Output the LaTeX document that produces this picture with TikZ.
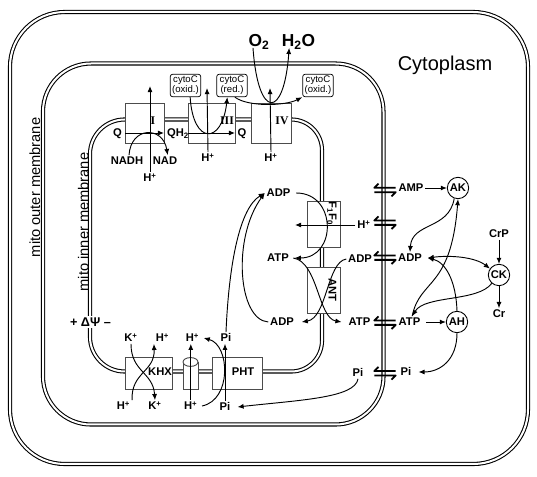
\documentclass[tikz,border=0pt]{standalone}
\usepackage{fontspec}
\setmainfont{Liberation Sans}
\newfontfamily\romanfont{Liberation Serif}
\usetikzlibrary{arrows.meta}
\tikzset{
  membrane/.style={draw=black, line width=0.8pt, double=white, double distance=1.5pt},
  cbox/.style={draw=black!70, fill=white, line width=0.7pt, inner sep=0pt, outer sep=0pt},
  lab/.style={font=\bfseries\fontsize{8.4}{9}\selectfont, inner sep=1.2pt, text height=6pt, text depth=0pt},
  biglab/.style={font=\bfseries\fontsize{13}{14}\selectfont, inner sep=1pt, text height=9.4pt, text depth=0pt},
  cyt/.style={draw, fill=white, rounded corners=2pt, line width=0.55pt, align=center, font=\fontsize{7.2}{7.6}\selectfont, inner sep=0.3pt, minimum width=23pt, minimum height=17pt},
  enz/.style={circle, draw, fill=white, line width=0.65pt, minimum size=16pt, inner sep=0pt, font=\bfseries\fontsize{8.4}{9}\selectfont},
  cx/.style={font=\romanfont\bfseries\fontsize{8.8}{9}\selectfont, inner sep=0pt},
  arr/.style={line width=0.7pt, -{Latex[length=4.6pt,width=3.8pt]}},
  darr/.style={line width=0.7pt, {Latex[length=4.6pt,width=3.8pt]}-{Latex[length=4.6pt,width=3.8pt]}},
  pics/exch/.style={code={
    \draw[line width=1.35pt, line join=round] (-6.5,-6.3) -- (-10.7,-2.2) -- (10.7,-2.2);
    \draw[line width=1.35pt, line join=round] (-10.7,2.2) -- (10.7,2.2) -- (6.5,6.3);
  }}
}
\begin{document}
\begin{tikzpicture}[x=0.75pt,y=-0.75pt]
\useasboundingbox (0,0) rectangle (537,477);
% membranes
\draw[membrane, rounded corners=41pt] (10,12) rectangle (528,464);
\draw[membrane, rounded corners=36pt] (43,63.5) rectangle (383.5,424.5);
\draw[membrane, rounded corners=26pt] (240,371.5) -| (90,250) |- (240,119.5);
\draw[membrane, rounded corners=23pt] (240,119.5) -| (322,250) |- (240,371.5);

% text of compartments
\node[font=\fontsize{15}{16}\selectfont, inner sep=0pt] (cyto) at (445,65) {Cytoplasm};
\node[rotate=90, font=\fontsize{11}{12}\selectfont, inner sep=0pt] (mom) at (35,187.5) {mito outer membrane};
\node[rotate=90, font=\fontsize{11}{12}\selectfont, inner sep=0pt] (mim) at (83.5,222) {mito inner membrane};

% complexes
\node[cbox, minimum width=29.25pt, minimum height=30pt] (cI) at (144.5,123) {};
\node[cbox, minimum width=35.25pt, minimum height=30pt] (cIII) at (211.5,123) {};
\node[cbox, minimum width=30pt, minimum height=30pt] (cIV) at (271,123) {};
\node[cbox, minimum width=24.75pt, minimum height=34.5pt] (bF) at (323.5,224) {};
\node[cbox, minimum width=24.75pt, minimum height=34.5pt] (bANT) at (323.5,290) {};
\node[cbox, minimum width=35.25pt, minimum height=24pt] (bKHX) at (148.5,373) {};
\node[cbox, minimum width=37.5pt, minimum height=24pt] (bPHT) at (237,373) {};
% channel cylinder
\fill[white] (183,362) rectangle (198,389);
\draw[draw=black!70, line width=0.7pt] (183,362) -- (183,389) -- (198,389) -- (198,362);
\draw[draw=black!70, fill=white, line width=0.7pt] (190.5,362) ellipse [x radius=5.6pt, y radius=3.3pt];

\node[cx] (lI) at (153,121) {I};
\node[cx] (lIII) at (227,121) {III};
\node[cx] (lIV) at (282,121) {IV};
\node[lab, rotate=-90] (F1F0) at (333,213.5) {F\textsubscript{1}F\textsubscript{0}};
\node[lab, rotate=-90] (ANT) at (332.5,290) {ANT};
\node[lab] (KHX) at (160,372) {KHX};
\node[lab] (PHT) at (243,372) {PHT};

% top labels
\node[biglab] (O2) at (259,40) {O\textsubscript{2}};
\node[biglab] (H2O) at (298.5,40) {H\textsubscript{2}O};
\node[cyt] (c1) at (185.5,85.5) {cytoC\\(oxid.)};
\node[cyt] (c2) at (232,85.5) {cytoC\\(red.)};
\node[cyt] (c3) at (318,85.5) {cytoC\\(oxid.)};
\node[lab] (Q1) at (117.5,133) {Q};
\node[lab] (QH2) at (178,133) {QH\textsubscript{2}};
\node[lab] (Q2) at (242,133) {Q};
\node[lab] (NADH) at (127,161) {NADH};
\node[lab] (NAD) at (165,161) {NAD};
\node[lab] (HI) at (150,178) {H\textsuperscript{+}};
\node[lab] (HIII) at (208,158) {H\textsuperscript{+}};
\node[lab] (HIV) at (271,158) {H\textsuperscript{+}};
\coordinate (tI) at (150,86);
\coordinate (tIII) at (207,88);
\coordinate (tIV) at (270,88);

% right labels
\node[lab] (ADPu) at (278.5,193) {ADP};
\node[lab] (ATPm) at (278,258) {ATP};
\node[lab] (ADPl) at (282,322) {ADP};
\node[lab] (Hf) at (364,225) {H\textsuperscript{+}};
\coordinate (tF) at (295,225);
\node[lab] (ADPi) at (360,259) {ADP};
\node[lab] (ATPi) at (359.5,322) {ATP};
\node[lab] (Pii) at (358,373) {Pi};
\node[lab] (AMP) at (411,188) {AMP};
\node[lab] (ADPc) at (410,258) {ADP};
\node[lab] (ATPc) at (409.5,322) {ATP};
\node[lab] (Pic) at (406,372) {Pi};
\node[enz] (AK) at (458,188) {AK};
\node[enz] (CK) at (499,275) {CK};
\node[enz] (AH) at (457,322) {AH};
\node[lab] (CrP) at (499,234) {CrP};
\node[lab] (Cr) at (499,314) {Cr};

% bottom labels
\node[lab] (Kt) at (131,338) {K\textsuperscript{+}};
\node[lab] (Ht1) at (162.5,338) {H\textsuperscript{+}};
\node[lab] (Ht2) at (192.5,338) {H\textsuperscript{+}};
\node[lab] (Pit) at (226,338) {Pi};
\node[lab] (Hb1) at (123.5,406) {H\textsuperscript{+}};
\node[lab] (Kb) at (155,406) {K\textsuperscript{+}};
\node[lab] (Hb2) at (190.8,406) {H\textsuperscript{+}};
\node[lab] (Pib) at (225,407) {Pi};
\node[fill=white, font=\bfseries\fontsize{9.5}{10}\selectfont, inner sep=1pt, text height=7pt, text depth=0pt] (dpsi) at (90.5,322) {+ ΔΨ –};

% complex I
\draw[arr] (cI.west |- Q1) -- (cI.east |- Q1);
\draw[arr] (HI.north) -- (tI);
\draw[arr] ([xshift=1.5pt]NADH.north) .. controls (131,126) and (163,126) .. ([xshift=2pt]NAD.north);
% complex III
\draw[arr] (cIII.west |- Q2) -- (cIII.east |- Q2);
\draw[arr] (HIII.north) -- (tIII);
\draw[arr] ([xshift=3.5pt]c1.south) .. controls (193,145) and (222,145) .. ([xshift=-3.5pt]c2.south);
% complex IV
\draw[arr] (HIV.north) -- (tIV);
\draw[arr] ([xshift=-4.5pt]O2.south) .. controls (258,120) and (284,120) .. ([xshift=-7pt]H2O.south);
\draw[arr] ([xshift=2.2pt]c2.south) .. controls (248,107) and (285,106) .. (c3.south west);

% F1F0 / ANT
\draw[arr] (Pit.north) .. controls (229,262) and (240,208) .. (ADPu.west);
\draw[arr] (ADPl.west) .. controls (238,320) and (232,238) .. (ADPu.west);
\draw[arr] ([xshift=3pt]ADPu.east) .. controls (337,193) and (337,258) .. ([xshift=3pt]ATPm.east);
\draw[arr] (Hf.west) -- (tF);
\draw[arr] ([xshift=2pt]ATPm.east) .. controls (318,262) and (318,318) .. ([xshift=-4pt]ATPi.west);
\draw[arr] (ADPi.west) .. controls (327,262) and (327,318) .. ([xshift=4.5pt]ADPl.east);

% exchangers on outer membrane
\pic at (385,190) {exch};
\pic at (385,222.7) {exch};
\pic at (385,257.7) {exch};
\pic at (385,322.7) {exch};
\pic at (385,373.3) {exch};

% cytoplasm reactions
\draw[arr] (AMP.east) -- (AK.west);
\draw[arr] (AK.250) .. controls (449,230) and (412,222) .. (ADPc.north);
\draw[arr] ([xshift=2pt]ATPc.north) .. controls (420,278) and (451,290) .. (AK.south);
\draw[arr] (CK.229) .. controls (478,302) and (425,295) .. ([xshift=2pt]ATPc.north);
\draw[darr] ([xshift=3pt]ADPc.east) .. controls (450,255) and (475,257) .. (CK.145);
\draw[arr] (AH.north) .. controls (456,280) and (445,262) .. ([xshift=3pt]ADPc.east);
\draw[arr] ([xshift=3pt]ATPc.east) -- (AH.west);
\draw[arr] (AH.south) .. controls (457,360) and (440,372) .. ([xshift=4pt]Pic.east);
\draw[arr] (CrP.south) -- (CK.north);
\draw[arr] (CK.south) -- (Cr.north);

% Pi import
\draw[arr] (Pii.south) .. controls (355,398) and (300,400) .. ([xshift=4pt]Pib.east);

% bottom transporters
\draw[arr] (Kt.south) .. controls (131,372) and (153,372) .. (Kb.north);
\draw[arr] (Hb1.north east) .. controls (131,372) and (155,372) .. (Ht1.south west);
\draw[arr] (Hb2.north) -- (Hb2.north |- Ht2.south);
\draw[arr] ([xshift=2pt]Hb2.east) .. controls (232,400) and (230,345) .. ([xshift=2pt]Ht2.east);
\draw[arr] (Pib.north) -- (Pib.north |- Pit.south);
\end{tikzpicture}
\end{document}
